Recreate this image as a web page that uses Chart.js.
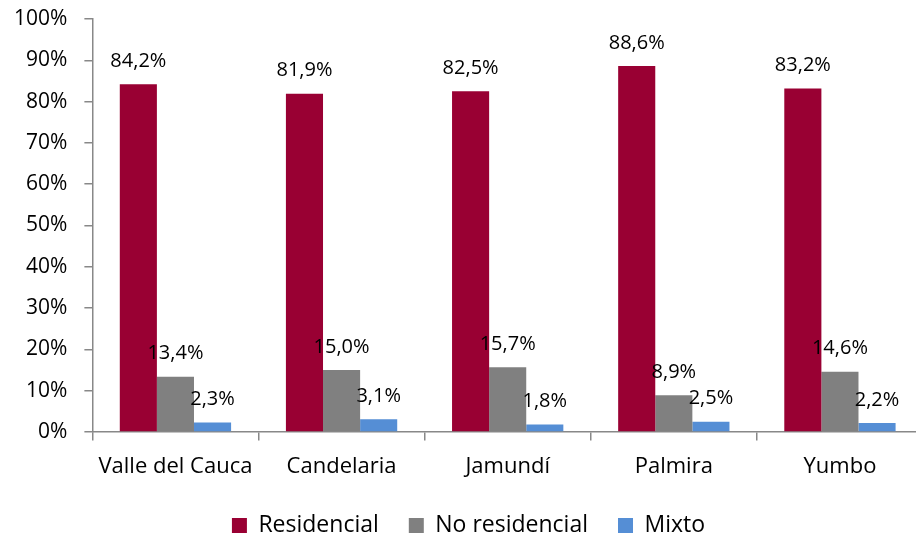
<!DOCTYPE html>
<html>
<head>
<meta charset="utf-8">
<script src="https://cdn.jsdelivr.net/npm/chart.js@4"></script>
<style>
html,body{margin:0;padding:0;background:#fff;overflow:hidden;}
#wrap{width:916px;height:536px;overflow:hidden;position:relative;}
</style>
</head>
<body>
<div id="wrap"><canvas id="c" width="924" height="536"></canvas></div>
<script>
const categories = ["Valle del Cauca", "Candelaria", "Jamundí", "Palmira", "Yumbo"];
const residencial = [84.2, 81.9, 82.5, 88.6, 83.2];
const noResidencial = [13.4, 15.0, 15.7, 8.9, 14.6];
const mixto = [2.3, 3.1, 1.8, 2.5, 2.2];
const yTicks = [0, 10, 20, 30, 40, 50, 60, 70, 80, 90, 100];

const FONT = "'Open Sans', 'DejaVu Sans', sans-serif";

const labelPlugin = {
  id: 'valueLabels',
  afterDatasetsDraw(chart) {
    const ctx = chart.ctx;
    ctx.save();
    ctx.font = '20px ' + FONT;
    ctx.fillStyle = '#000';
    ctx.textAlign = 'center';
    ctx.textBaseline = 'bottom';
    chart.data.datasets.forEach((ds, i) => {
      const meta = chart.getDatasetMeta(i);
      meta.data.forEach((el, j) => {
        const txt = ds.data[j].toFixed(1).replace('.', ',') + '%';
        ctx.fillText(txt, el.x, el.y - 13);
      });
    });
    ctx.restore();
  }
};

new Chart(document.getElementById('c'), {
  type: 'bar',
  data: {
    labels: categories,
    datasets: [
      { label: 'Residencial', data: residencial, backgroundColor: '#990033' },
      { label: 'No residencial', data: noResidencial, backgroundColor: '#808080' },
      { label: 'Mixto', data: mixto, backgroundColor: '#558ED5' }
    ]
  },
  options: {
    responsive: false,
    animation: false,
    layout: { padding: { top: 19, right: 1, left: 14, bottom: -11 } },
    datasets: { bar: { categoryPercentage: 0.67, barPercentage: 1.0 } },
    scales: {
      x: {
        grid: { offset: true, drawOnChartArea: false, tickLength: 18, color: '#888', lineWidth: 1.5, tickBorderDash: [8, 30] },
        border: { color: '#888', width: 1.5 },
        ticks: { color: '#000', font: { family: FONT, size: 22, lineHeight: 1.545 }, padding: 0, minRotation: 0, maxRotation: 0, autoSkip: false }
      },
      y: {
        min: 0, max: 100,
        afterBuildTicks(scale) { scale.ticks = yTicks.map(v => ({ value: v })); },
        grid: { drawOnChartArea: false, tickLength: 25, color: '#888', lineWidth: 1.5, tickBorderDash: [8, 17], tickBorderDashOffset: 8 },
        border: { color: '#888', width: 1.5 },
        ticks: { color: '#000', font: { family: FONT, size: 21 }, padding: 0, callback: v => v + '%' }
      }
    },
    plugins: {
      legend: {
        position: 'bottom',
        labels: { color: '#000', font: { family: FONT, size: 23 }, boxWidth: 15, boxHeight: 15, padding: 30 }
      },
      tooltip: { enabled: false }
    }
  },
  plugins: [labelPlugin]
});
</script>
</body>
</html>
